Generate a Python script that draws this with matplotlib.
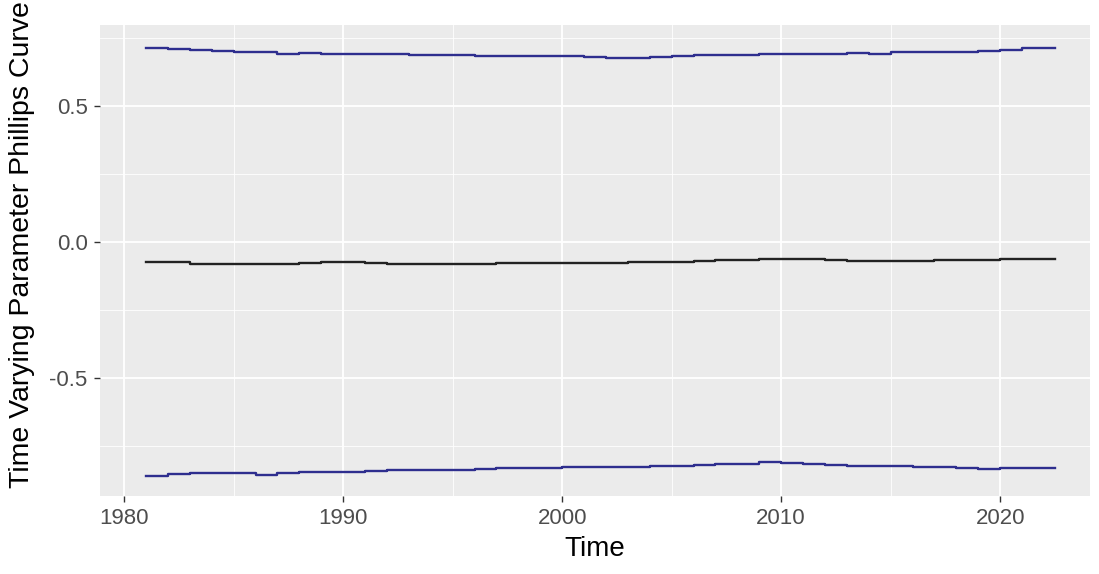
# ggplot-style time-varying Phillips curve parameters
import numpy as np
import matplotlib.pyplot as plt

# years (step points), the last value is held until mid-2022
years = list(range(1981, 2023)) + [2022.5]

upper = [0.714, 0.710, 0.706, 0.702, 0.697, 0.697, 0.692, 0.695, 0.691, 0.691,
         0.691, 0.691, 0.688, 0.686, 0.688, 0.685, 0.684, 0.685, 0.685, 0.684,
         0.680, 0.677, 0.678, 0.682, 0.684, 0.686, 0.688, 0.687, 0.690, 0.692,
         0.692, 0.693, 0.694, 0.692, 0.697, 0.697, 0.697, 0.697, 0.701, 0.706,
         0.714, 0.714]

middle = [-0.075, -0.075, -0.082, -0.080, -0.082, -0.082, -0.082, -0.078, -0.075, -0.075,
          -0.076, -0.082, -0.082, -0.082, -0.082, -0.081, -0.078, -0.078, -0.077, -0.077,
          -0.077, -0.077, -0.075, -0.073, -0.074, -0.070, -0.066, -0.067, -0.064, -0.063,
          -0.064, -0.067, -0.068, -0.068, -0.068, -0.068, -0.067, -0.067, -0.066, -0.064,
          -0.062, -0.062]

lower = [-0.860, -0.852, -0.850, -0.850, -0.848, -0.855, -0.850, -0.847, -0.845, -0.845,
         -0.843, -0.840, -0.838, -0.838, -0.837, -0.836, -0.832, -0.831, -0.830, -0.828,
         -0.828, -0.828, -0.826, -0.823, -0.825, -0.820, -0.815, -0.818, -0.810, -0.812,
         -0.818, -0.820, -0.823, -0.825, -0.825, -0.827, -0.828, -0.832, -0.836, -0.832,
         -0.830, -0.830]

x_ticks = [1980, 1990, 2000, 2010, 2020]
y_ticks = [-0.5, 0.0, 0.5]
y_tick_labels = ['-0.5', '0.0', '0.5']

plt.rcParams['font.family'] = ['Liberation Sans', 'DejaVu Sans']

W, H = 1099, 574
fig = plt.figure(figsize=(W / 100, H / 100), dpi=100)
ax = fig.add_axes([100 / W, (H - 496) / H, (1090 - 100) / W, (496 - 25) / H])

ax.set_facecolor('#ebebeb')
for s in ax.spines.values():
    s.set_visible(False)

# hold last value till the end
def ext(v):
    return v + [v[-1]]

blue = '#2e2e8e'
ax.plot(years, ext(upper), drawstyle='steps-post', color=blue, lw=1.7)
ax.plot(years, ext(middle), drawstyle='steps-post', color='#222222', lw=1.7)
ax.plot(years, ext(lower), drawstyle='steps-post', color=blue, lw=1.7)

ax.set_xlim(1978.9, 2024.1)
ax.set_ylim(-0.934, 0.798)

ax.set_xticks(x_ticks)
ax.set_xticks([1985, 1995, 2005, 2015], minor=True)
ax.set_yticks(y_ticks)
ax.set_yticklabels(y_tick_labels)
ax.set_yticks([-0.75, -0.25, 0.25, 0.75], minor=True)

ax.grid(which='major', color='white', lw=1.3)
ax.grid(which='minor', color='white', lw=0.6)
ax.set_axisbelow(True)

ax.tick_params(which='major', length=4, width=1, color='#333333',
               labelsize=16, labelcolor='#4d4d4d', pad=5)
ax.tick_params(which='minor', length=0)

ax.set_xlabel('Time', fontsize=20, color='black', labelpad=5)
# y title is longer than the panel, so it runs off the top like in the original
fig.text(22 / W, (H - 488) / H, 'Time Varying Parameter Phillips Curve',
         rotation=90, ha='center', va='bottom', fontsize=20.5, color='black')

fig.savefig('out.png', dpi=100)
